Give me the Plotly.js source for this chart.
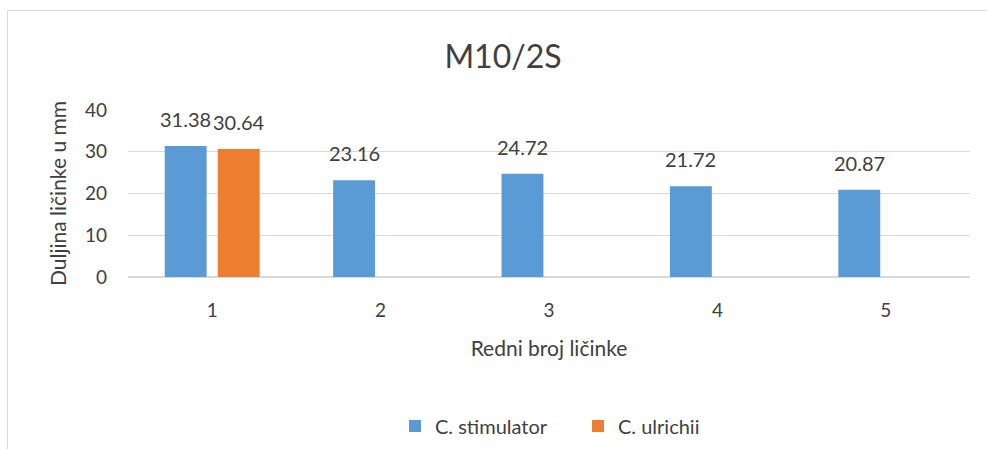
<!DOCTYPE html>
<html>
<head>
<meta charset="utf-8">
<script src="https://cdn.plot.ly/plotly-3.0.1.min.js"></script>
<style>
html,body{margin:0;padding:0;background:#fff;overflow:hidden;}
#wrap{position:relative;width:987px;height:449px;}
#chart{position:absolute;left:0;top:0;width:987px;height:449px;}
#frame{position:absolute;left:7px;top:10px;width:1000px;height:500px;border:1.5px solid #d9d9d9;pointer-events:none;box-sizing:border-box;}
</style>
</head>
<body>
<div id="wrap"><div id="chart"></div><div id="frame"></div></div>
<script>
const categories = ['1', '2', '3', '4', '5'];
const stimulator = [31.38, 23.16, 24.72, 21.72, 20.87];
const ulrichii = [30.64, null, null, null, null];
const seriesNames = ['C. stimulator', 'C. ulrichii'];
const yTicks = [0, 10, 20, 30, 40];

const FONT = 'Lato, "Open Sans", sans-serif';
const TXT = '#404040';

const traces = [
  {type: 'bar', name: seriesNames[0], x: categories, y: stimulator, marker: {color: '#5B9BD5'}, hoverinfo: 'none'},
  {type: 'bar', name: seriesNames[1], x: categories, y: ulrichii, marker: {color: '#ED7D31'}, hoverinfo: 'none'}
];

const annotations = [];
[stimulator, ulrichii].forEach((arr, si) => {
  arr.forEach((v, i) => {
    if (v === null) return;
    annotations.push({
      x: i, y: v, xref: 'x', yref: 'y',
      text: v.toFixed(2), showarrow: false,
      xshift: si === 0 ? -26.5 : 26.5, yshift: 13, yanchor: 'bottom',
      font: {family: FONT, size: 20, color: TXT}
    });
  });
});

const layout = {
  width: 987, height: 449,
  margin: {l: 128, r: 17, t: 109.5, b: 171.5},
  paper_bgcolor: 'rgba(0,0,0,0)', plot_bgcolor: '#fff',
  font: {family: FONT, color: TXT, size: 19},
  title: {text: 'M10/2S', x: 503/987, xref: 'container', xanchor: 'center', y: 1 - 57/449, yref: 'container', yanchor: 'middle', font: {family: FONT, size: 32, color: TXT}},
  barmode: 'group', bargap: 0.37, bargroupgap: 0.21,
  showlegend: true,
  legend: {orientation: 'h', x: 395/987, xref: 'container', xanchor: 'left', y: 1 - 426/449, yref: 'container', yanchor: 'middle',
           font: {family: FONT, size: 20, color: TXT}, itemwidth: 30, traceorder: 'normal', entrywidth: 138, entrywidthmode: 'pixels'},
  xaxis: {
    type: 'category', range: [-0.5, 4.5], showgrid: false, zeroline: false, showline: false, ticks: '',
    tickfont: {family: FONT, size: 19, color: TXT}, ticklabelstandoff: 20,
    title: {text: 'Redni broj ličinke', font: {family: FONT, size: 21, color: TXT}, standoff: 21}
  },
  yaxis: {
    range: [0, 40], tickvals: yTicks, ticktext: yTicks.map(String),
    showgrid: true, gridcolor: '#d9d9d9', gridwidth: 1.3,
    zeroline: true, zerolinecolor: '#d9d9d9', zerolinewidth: 1.3, showline: false, ticks: '',
    tickfont: {family: FONT, size: 19, color: TXT}, ticklabelstandoff: 20,
    title: {text: 'Duljina ličinke u mm', font: {family: FONT, size: 21, color: TXT}, standoff: 12}
  },
  annotations: annotations
};

Plotly.newPlot('chart', traces, layout, {staticPlot: true, displayModeBar: false});
</script>
</body>
</html>
